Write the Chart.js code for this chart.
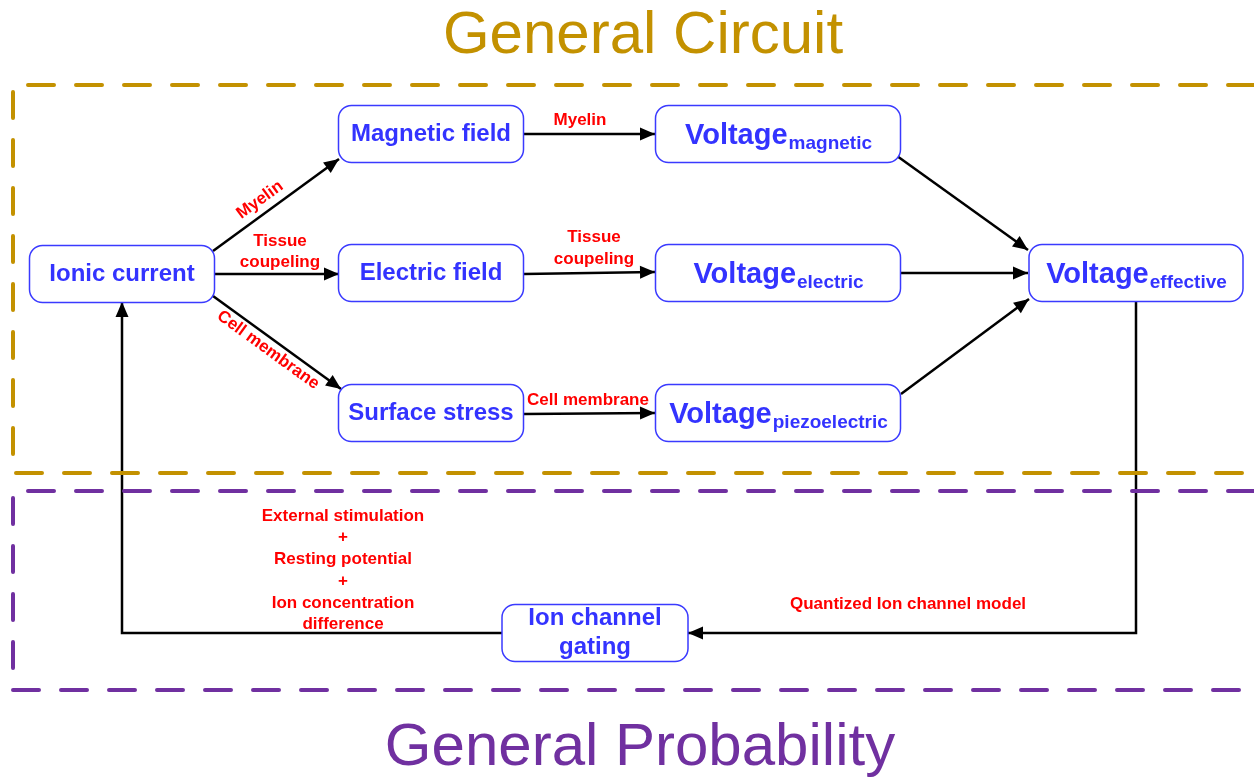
<!DOCTYPE html>
<html>
<head>
<meta charset="utf-8">
<script src="https://cdn.jsdelivr.net/npm/chart.js@4"></script>
<style>
  body { margin: 0; background: #fff; }
  #wrap { width: 1254px; height: 779px; }
</style>
</head>
<body>
<div id="wrap"><canvas id="myChart" width="1254" height="779"></canvas></div>
<script>
// diagram coordinates are in a 1254 x 779 value space
const nodeText = ["Ionic current", "Magnetic field", "Electric field", "Surface stress",
  "Voltage", "Voltage", "Voltage", "Voltage", "Ion channel\ngating"];
const nodeSub = ["", "", "", "", "magnetic", "electric", "piezoelectric", "effective", ""];
const nodeX = [122, 431, 431, 431, 778, 778, 778, 1136, 595];
const nodeY = [274, 134, 273, 413, 134, 273, 413, 273, 633];
const nodeW = [185, 185, 185, 185, 245, 245, 245, 214, 186];

const edgePaths = [
  [[213, 251], [339, 159]],
  [[215, 274], [339, 274]],
  [[213, 296], [341, 389]],
  [[524, 134], [655, 134]],
  [[524, 274], [655, 272]],
  [[524, 414], [655, 413]],
  [[897, 156], [1028, 250]],
  [[901, 273], [1028, 273]],
  [[901, 394], [1029, 299]],
  [[1136, 302], [1136, 633], [688, 633]],
  [[502, 633], [122, 633], [122, 302]]
];

const labelText = ["Myelin", "Tissue", "coupeling", "Cell membrane", "Myelin", "Tissue", "coupeling",
  "Cell membrane", "Quantized Ion channel model", "External stimulation", "+", "Resting potential", "+",
  "Ion concentration", "difference"];
const labelX = [260, 280, 280, 268, 580, 594, 594, 588, 908, 343, 343, 343, 343, 343, 343];
const labelY = [200, 241, 262, 350, 120, 237, 259, 400, 604, 516, 537, 559, 581, 603, 624];
const labelAngle = [-36, 0, 0, 36, 0, 0, 0, 0, 0, 0, 0, 0, 0, 0, 0];

const frameCircuit = [[1254, 85], [13, 85], [13, 473], [1254, 473]];
const frameProbability = [[1254, 491], [13, 491], [13, 690], [1254, 690]];

const toPts = p => p.map(q => ({ x: q[0], y: q[1] }));

const datasets = [
  { data: toPts(frameCircuit), borderColor: "#C39100", borderWidth: 4, borderDash: [26, 22], borderCapStyle: "round" },
  { data: toPts(frameProbability), borderColor: "#7030A0", borderWidth: 4, borderDash: [26, 22], borderCapStyle: "round" }
];
edgePaths.forEach(p => datasets.push({ data: toPts(p), borderColor: "#000", borderWidth: 2.5, arrow: true }));
datasets.forEach(d => { d.showLine = true; d.pointRadius = 0; d.fill = false; d.tension = 0; d.clip = false; });

const diagramPlugin = {
  id: "diagram",
  beforeDraw(chart) {
    const c = chart.ctx;
    c.save();
    c.fillStyle = "#fff";
    c.fillRect(0, 0, chart.width, chart.height);
    c.restore();
  },
  afterDatasetsDraw(chart) {
    const c = chart.ctx;
    const xs = chart.scales.x, ys = chart.scales.y;
    const px = v => xs.getPixelForValue(v), py = v => ys.getPixelForValue(v);

    // arrowheads
    chart.data.datasets.forEach(d => {
      if (!d.arrow) return;
      const n = d.data.length;
      const a = d.data[n - 2], b = d.data[n - 1];
      const x1 = px(a.x), y1 = py(a.y), x2 = px(b.x), y2 = py(b.y);
      const ang = Math.atan2(y2 - y1, x2 - x1);
      c.save();
      c.translate(x2, y2);
      c.rotate(ang);
      c.beginPath();
      c.moveTo(0, 0);
      c.lineTo(-15, -6.5);
      c.lineTo(-15, 6.5);
      c.closePath();
      c.fillStyle = "#000";
      c.fill();
      c.restore();
    });

    // boxes
    nodeText.forEach((t, i) => {
      const w = nodeW[i], h = 57;
      const x = px(nodeX[i] - w / 2), y = py(nodeY[i] - h / 2);
      c.save();
      c.beginPath();
      c.roundRect(x, y, px(nodeX[i] + w / 2) - x, py(nodeY[i] + h / 2) - y, 13);
      c.fillStyle = "#fff";
      c.fill();
      c.lineWidth = 1.5;
      c.strokeStyle = "#3A3AFF";
      c.stroke();
      c.fillStyle = "#3333FF";
      const cx = px(nodeX[i]), cy = py(nodeY[i]);
      if (nodeSub[i]) {
        c.font = "bold 29px 'Liberation Sans', Arial, sans-serif";
        const w1 = c.measureText(t).width;
        c.font = "bold 19px 'Liberation Sans', Arial, sans-serif";
        const w2 = c.measureText(nodeSub[i]).width;
        const x0 = cx - (w1 + w2) / 2;
        c.textBaseline = "alphabetic";
        c.textAlign = "left";
        c.font = "bold 29px 'Liberation Sans', Arial, sans-serif";
        c.fillText(t, x0, cy + 10);
        c.font = "bold 19px 'Liberation Sans', Arial, sans-serif";
        c.fillText(nodeSub[i], x0 + w1 + 1, cy + 15);
      } else {
        c.font = "bold 24px 'Liberation Sans', Arial, sans-serif";
        c.textAlign = "center";
        c.textBaseline = "middle";
        const lines = t.split("\n");
        lines.forEach((ln, k) => c.fillText(ln, cx, cy + (k - (lines.length - 1) / 2) * 29));
      }
      c.restore();
    });

    // edge labels
    labelText.forEach((t, i) => {
      c.save();
      c.translate(px(labelX[i]), py(labelY[i]));
      c.rotate(labelAngle[i] * Math.PI / 180);
      c.font = "bold 17px 'Liberation Sans', Arial, sans-serif";
      c.fillStyle = "#FF0000";
      c.textAlign = "center";
      c.textBaseline = "middle";
      c.fillText(t, 0, 0);
      c.restore();
    });

    // section titles
    c.save();
    c.font = "60px 'Liberation Sans', Arial, sans-serif";
    c.textAlign = "center";
    c.textBaseline = "alphabetic";
    c.fillStyle = "#C39100";
    c.fillText("General Circuit", px(643), py(53));
    c.fillStyle = "#7030A0";
    c.fillText("General Probability", px(640), py(765));
    c.restore();
  }
};

const myChart = new Chart(document.getElementById("myChart").getContext("2d"), {
  type: "scatter",
  data: { datasets },
  options: {
    responsive: false,
    animation: false,
    layout: { padding: 0 },
    plugins: { legend: { display: false }, tooltip: { enabled: false } },
    scales: {
      x: { type: "linear", min: 0, max: 1254, display: false },
      y: { type: "linear", min: 0, max: 779, reverse: true, display: false }
    }
  },
  plugins: [diagramPlugin]
});
</script>
</body>
</html>
